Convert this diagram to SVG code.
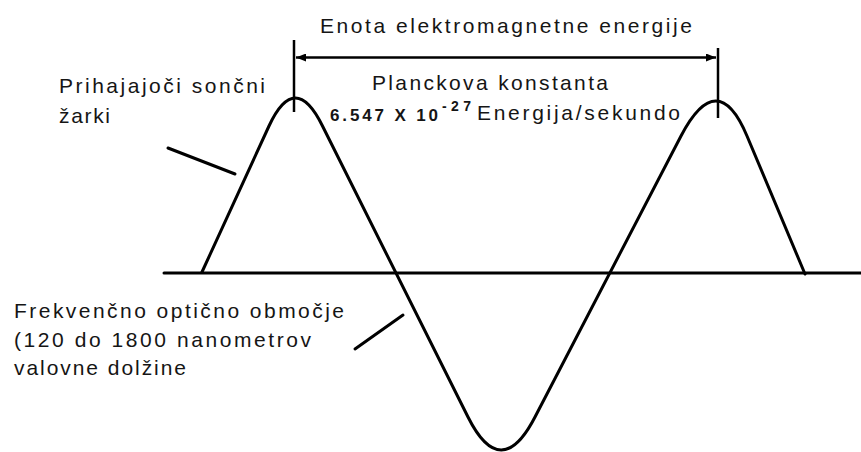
<svg xmlns="http://www.w3.org/2000/svg" width="861" height="452" viewBox="0 0 861 452">
  <defs>
    <style>
      .t { font-family: "Liberation Sans", Arial, sans-serif; font-size: 21px; fill: #151515; }
      .b { font-family: "Liberation Sans", Arial, sans-serif; font-weight: bold; fill: #151515; }
      .ln { fill: none; stroke: #000; stroke-width: 3; stroke-linecap: round; stroke-linejoin: round; }
      .dim { fill: none; stroke: #000; stroke-width: 2.5; }
    </style>
    <marker id="ah" viewBox="0 0 10 8" refX="10" refY="4" markerWidth="4" markerHeight="3.2" orient="auto-start-reverse" markerUnits="strokeWidth">
      <path d="M0,0 L10,4 L0,8 z" fill="#000"/>
    </marker>
  </defs>
  <rect width="861" height="452" fill="#fff"/>

  <g id="axis">
    <line class="ln" x1="164" y1="273" x2="861" y2="273"/>
  </g>

  <g id="wave">
    <path class="ln" d="M202,272 L269,126 Q295,70 322.5,126 L468,417 Q501,483 535,417 L681,136 Q717.6,66 747,136 L805,274"/>
  </g>

  <g id="connectors">
    <line class="dim" x1="294" y1="40" x2="294" y2="112"/>
    <line class="dim" x1="718" y1="48" x2="718" y2="118"/>
    <line class="dim" x1="296" y1="57.5" x2="716" y2="57.5" marker-start="url(#ah)" marker-end="url(#ah)"/>
    <line class="ln" x1="168" y1="148" x2="235" y2="174" stroke-width="3.5"/>
    <line class="ln" x1="355" y1="349" x2="403" y2="315" stroke-width="3.5"/>
  </g>

  <g id="label-unit">
    <text class="t" x="320" y="33" textLength="372" lengthAdjust="spacing">Enota elektromagnetne energije</text>
  </g>

  <g id="label-planck">
    <text class="t" x="372" y="90" textLength="236" lengthAdjust="spacing">Planckova konstanta</text>
    <text class="b" x="330" y="121" font-size="17" textLength="108" lengthAdjust="spacing">6.547 X 10</text>
    <text class="b" x="442" y="111" font-size="14" textLength="29" lengthAdjust="spacing">-27</text>
    <text class="t" x="477" y="120" textLength="203" lengthAdjust="spacing">Energija/sekundo</text>
  </g>

  <g id="label-rays">
    <text class="t" x="59" y="93" textLength="206" lengthAdjust="spacing">Prihajajoči sončni</text>
    <text class="t" x="59" y="123" textLength="51" lengthAdjust="spacing">žarki</text>
  </g>

  <g id="label-range">
    <text class="t" x="14" y="318" textLength="330" lengthAdjust="spacing">Frekvenčno optično območje</text>
    <text class="t" x="14" y="347" textLength="297" lengthAdjust="spacing">(120 do 1800 nanometrov</text>
    <text class="t" x="14" y="375" textLength="172" lengthAdjust="spacing">valovne dolžine</text>
  </g>
</svg>
